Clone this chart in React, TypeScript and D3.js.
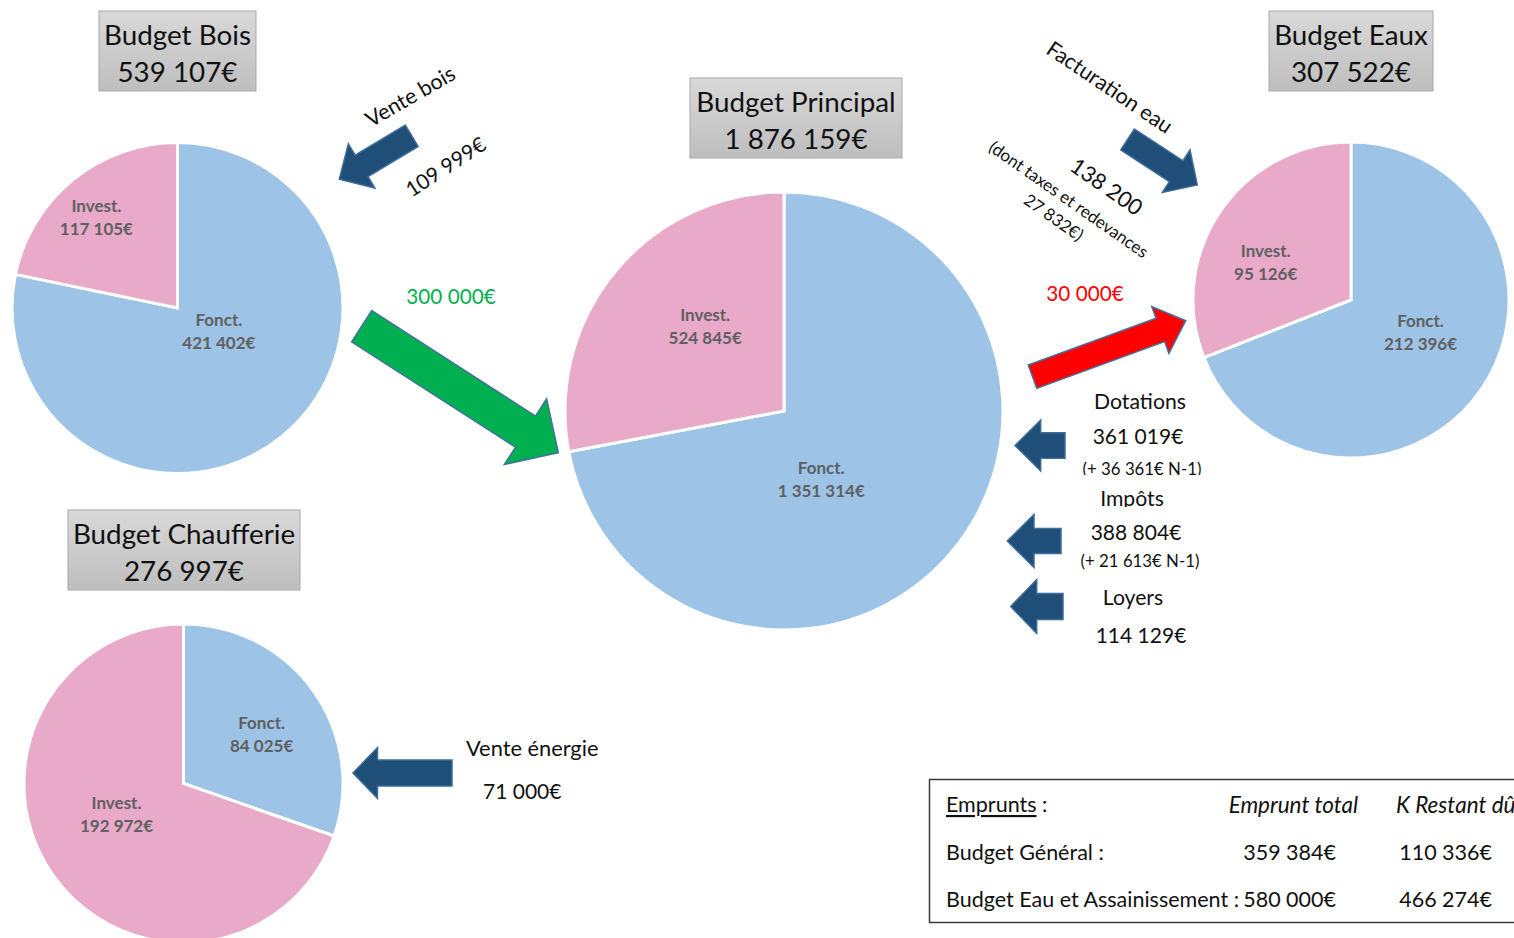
import React from "react";
import * as d3 from "d3";

// ---------- DATA ----------
const budgetNames = ["Budget Bois", "Budget Principal", "Budget Eaux", "Budget Chaufferie"];
const budgetTotals = [539107, 1876159, 307522, 276997];
const sliceNames = ["Fonct.", "Invest."];
const fonctValues = [421402, 1351314, 212396, 84025];
const investValues = [117105, 524845, 95126, 192972];

const flowNames = ["Vente bois", "Transfert Bois", "Facturation eau", "Transfert Eaux", "Dotations", "Impôts", "Loyers", "Vente énergie"];
const flowAmounts = [109999, 300000, 138200, 30000, 361019, 388804, 114129, 71000];
const flowPriorYear = [0, 0, 0, 0, 36361, 21613, 0, 0];
const eauTaxes = 27832;

const loanHeaders = ["Emprunts", "Emprunt total", "K Restant dû"];
const loanBudgets = ["Budget Général :", "Budget Eau et Assainissement :"];
const loanTotals = [359384, 580000];
const loanRemaining = [110336, 466274];

// ---------- LAYOUT / STYLE ----------
const W = 1514;
const H = 938;
const FONT = "Lato, 'Open Sans', sans-serif";
const COLORS = ["#9DC3E6", "#E8AAC8"];
const LABEL_COLOR = "#606060";
const DARK = "#1F4E79";

const pieLayout = [
  { cx: 177.5, cy: 308, r: 165.5, box: { x: 99, y: 11, w: 157, h: 80 }, labels: [[0.25, 0.14], [-0.49, -0.55]] },
  { cx: 784, cy: 411, r: 219, box: { x: 690, y: 78, w: 212, h: 80 }, labels: [[0.17, 0.31], [-0.36, -0.39]] },
  { cx: 1351, cy: 300, r: 158, box: { x: 1269, y: 11, w: 164, h: 80 }, labels: [[0.44, 0.2], [-0.54, -0.24]] },
  { cx: 183.5, cy: 783.5, r: 159.5, box: { x: 68, y: 510, w: 232, h: 80 }, labels: [[0.49, -0.31], [-0.42, 0.19]] },
];

const arrowLayout = [
  { tail: [411.7, 135.8], tip: [339.3, 179.3], shaft: 25, head: 51.5, headLen: 26, fill: DARK },
  { tail: [361.7, 326.2], tip: [558.3, 452.7], shaft: 37, head: 78, headLen: 39, fill: "#00B050" },
  { tail: [1127.5, 139.5], tip: [1197.3, 185], shaft: 25, head: 50.6, headLen: 25.2, fill: DARK },
  { tail: [1032.5, 376.7], tip: [1185.7, 320.7], shaft: 24.8, head: 50, headLen: 27, fill: "#FF0000" },
  { tail: [1065, 445.5], tip: [1015, 445.5], shaft: 25.6, head: 50.7, headLen: 25.7, fill: DARK },
  { tail: [1061, 541], tip: [1007.3, 541], shaft: 25, head: 53, headLen: 26.7, fill: DARK },
  { tail: [1063, 606.5], tip: [1010.7, 606.5], shaft: 26, head: 54, headLen: 26, fill: DARK },
  { tail: [452, 773], tip: [353, 773], shaft: 26, head: 51, headLen: 24.5, fill: DARK },
];

const fr = d3.formatLocale({ decimal: ",", thousands: "\u00a0", grouping: [3], currency: ["", "€"] });
const num = fr.format(",d");
const eur = (v: number) => num(v) + "€";

function arrowPoints(a: any): string {
  const [tx, ty] = a.tail;
  const [px, py] = a.tip;
  const len = Math.hypot(px - tx, py - ty);
  const ux = (px - tx) / len, uy = (py - ty) / len;
  const nx = -uy, ny = ux;
  const bx = px - ux * a.headLen, by = py - uy * a.headLen;
  const s = a.shaft / 2, h = a.head / 2;
  const pts = [
    [tx + nx * s, ty + ny * s],
    [bx + nx * s, by + ny * s],
    [bx + nx * h, by + ny * h],
    [px, py],
    [bx - nx * h, by - ny * h],
    [bx - nx * s, by - ny * s],
    [tx - nx * s, ty - ny * s],
  ];
  return pts.map((p) => p.join(",")).join(" ");
}

function Pie({ i }: { i: number }) {
  const L = pieLayout[i];
  const values = [fonctValues[i], investValues[i]];
  const arcs = d3.pie<number>().sort(null).value((d) => d)(values);
  const arc = d3.arc<d3.PieArcDatum<number>>().innerRadius(0).outerRadius(L.r);
  return (
    <g>
      <g transform={`translate(${L.cx},${L.cy})`}>
        {arcs.map((a, k) => (
          <path key={k} d={arc(a) || ""} fill={COLORS[k]} stroke="#fff" strokeWidth={3} strokeLinejoin="miter" />
        ))}
        {arcs.map((a, k) => {
          const x = L.labels[k][0] * L.r;
          const y = L.labels[k][1] * L.r;
          return (
            <g key={"l" + k} fontFamily={FONT} fontWeight={700} fontSize={17} fill={LABEL_COLOR}>
              <text x={x} y={y - 11.5} textAnchor="middle" dominantBaseline="central">{sliceNames[k]}</text>
              <text x={x} y={y + 11.5} textAnchor="middle" dominantBaseline="central">{eur(values[k])}</text>
            </g>
          );
        })}
      </g>
      <rect x={L.box.x} y={L.box.y} width={L.box.w} height={L.box.h} fill="url(#boxGrad)" stroke="#A8A8A8" strokeWidth={1} />
      <text x={L.box.x + L.box.w / 2} y={L.box.y + 23} textAnchor="middle" dominantBaseline="central" fontFamily={FONT} fontSize={27.8} fill="#111">
        {budgetNames[i]}
      </text>
      <text x={L.box.x + L.box.w / 2} y={L.box.y + 60} textAnchor="middle" dominantBaseline="central" fontFamily={FONT} fontSize={27.8} fill="#111">
        {eur(budgetTotals[i])}
      </text>
    </g>
  );
}

export default function App() {
  const T = { fontFamily: FONT, fill: "#111" } as any;
  return (
    <svg width={W} height={H} style={{ position: "absolute", left: 0, top: 0, background: "#fff" }}>
      <defs>
        <linearGradient id="boxGrad" x1="0" y1="0" x2="0" y2="1">
          <stop offset="0%" stopColor="#D9D9D9" />
          <stop offset="100%" stopColor="#BEBEBE" />
        </linearGradient>
        <clipPath id="clipN1a"><rect x={1060} y={455} width={170} height={20} /></clipPath>
        <clipPath id="clipImp"><rect x={1060} y={484} width={170} height={23} /></clipPath>
      </defs>

      {pieLayout.map((_, i) => <Pie key={i} i={i} />)}

      {arrowLayout.map((a, i) => (
        <polygon key={i} points={arrowPoints(a)} fill={a.fill} stroke={a.fill === DARK ? "#3B6C9A" : "#41719C"} strokeWidth={1.5} strokeLinejoin="miter" />
      ))}

      {/* Vente bois */}
      <text {...T} fontSize={21.5} textAnchor="middle" dominantBaseline="central" transform="translate(410,96) rotate(-30)">{flowNames[0]}</text>
      <text {...T} fontSize={21} textAnchor="middle" dominantBaseline="central" transform="translate(445,166) rotate(-33)">{eur(flowAmounts[0])}</text>

      {/* transfer Bois -> Principal */}
      <text {...T} fill="#00B050" fontSize={20.7} textAnchor="middle" dominantBaseline="central" x={451} y={296}>{eur(flowAmounts[1])}</text>

      {/* Facturation eau */}
      <text {...T} fontSize={21.5} textAnchor="middle" dominantBaseline="central" transform="translate(1110,87) rotate(34)">{flowNames[2]}</text>
      <text {...T} fontSize={22} textAnchor="middle" dominantBaseline="central" transform="translate(1107,186) rotate(35)">{num(flowAmounts[2])}</text>
      <text {...T} fontSize={17} textAnchor="middle" dominantBaseline="central" transform="translate(1069,199) rotate(35)">(dont taxes et redevances</text>
      <text {...T} fontSize={17} textAnchor="middle" dominantBaseline="central" transform="translate(1054,217) rotate(35)">{eur(eauTaxes) + ")"}</text>

      {/* transfer Principal -> Eaux */}
      <text {...T} fill="#FF0000" fontSize={20.7} textAnchor="middle" dominantBaseline="central" x={1085} y={293}>{eur(flowAmounts[3])}</text>

      {/* Dotations / Impôts / Loyers */}
      <text {...T} fontSize={21.2} textAnchor="middle" dominantBaseline="central" x={1140} y={401}>{flowNames[4]}</text>
      <text {...T} fontSize={21} textAnchor="middle" dominantBaseline="central" x={1138} y={435}>{eur(flowAmounts[4])}</text>
      <text {...T} fontSize={16.8} textAnchor="middle" dominantBaseline="central" x={1142} y={468} clipPath="url(#clipN1a)">{`(+ ${eur(flowPriorYear[4])} N-1)`}</text>
      <text {...T} fontSize={21.2} textAnchor="middle" dominantBaseline="central" x={1132} y={498} clipPath="url(#clipImp)">{flowNames[5]}</text>
      <text {...T} fontSize={21} textAnchor="middle" dominantBaseline="central" x={1136} y={531}>{eur(flowAmounts[5])}</text>
      <text {...T} fontSize={16.8} textAnchor="middle" dominantBaseline="central" x={1140} y={560}>{`(+ ${eur(flowPriorYear[5])} N-1)`}</text>
      <text {...T} fontSize={21.2} textAnchor="middle" dominantBaseline="central" x={1133} y={597}>{flowNames[6]}</text>
      <text {...T} fontSize={21} textAnchor="middle" dominantBaseline="central" x={1141} y={634}>{eur(flowAmounts[6])}</text>

      {/* Vente énergie */}
      <text {...T} fontSize={21.8} dominantBaseline="central" x={466} y={747}>{flowNames[7]}</text>
      <text {...T} fontSize={21} dominantBaseline="central" x={483} y={790}>{eur(flowAmounts[7])}</text>

      {/* Loans table */}
      <rect x={929.5} y={779.5} width={620} height={143} fill="#fff" stroke="#3a3a3a" strokeWidth={1.5} />
      <text {...T} fontSize={21.5} dominantBaseline="central" x={946} y={804}>
        <tspan textDecoration="underline">{loanHeaders[0]}</tspan>
        <tspan> :</tspan>
      </text>
      <text {...T} fontSize={22.5} fontStyle="italic" textAnchor="end" dominantBaseline="central" x={1358} y={804}>{loanHeaders[1]}</text>
      <text {...T} fontSize={22.5} fontStyle="italic" dominantBaseline="central" x={1396} y={804}>{loanHeaders[2]}</text>
      {loanBudgets.map((b, i) => (
        <g key={i}>
          <text {...T} fontSize={21.5} dominantBaseline="central" x={946} y={852 + i * 47}>{b}</text>
          <text {...T} fontSize={21.5} textAnchor="end" dominantBaseline="central" x={1336} y={852 + i * 47}>{eur(loanTotals[i])}</text>
          <text {...T} fontSize={21.5} textAnchor="end" dominantBaseline="central" x={1492} y={852 + i * 47}>{eur(loanRemaining[i])}</text>
        </g>
      ))}
    </svg>
  );
}
